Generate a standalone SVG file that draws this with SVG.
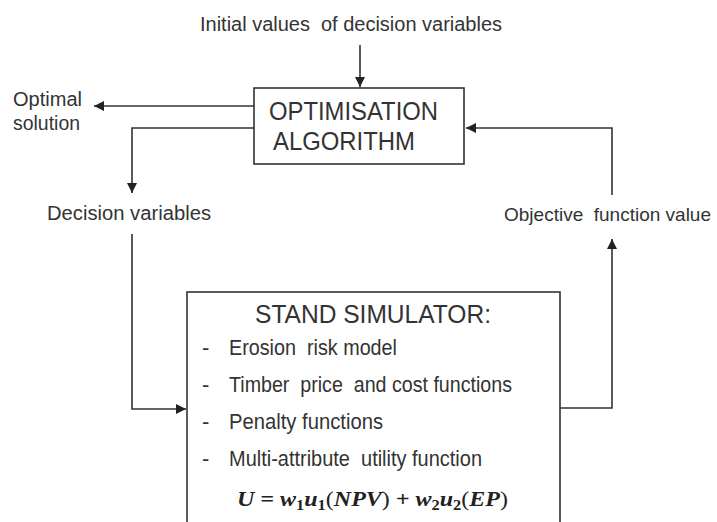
<svg xmlns="http://www.w3.org/2000/svg" width="717" height="522" viewBox="0 0 717 522">
<style>
  text { font-family: "Liberation Sans Narrow", "Liberation Sans", Arial, sans-serif; fill: #333; }
  .lbl { font-size: 20px; }
  .box { fill: #fff; stroke: #333; stroke-width: 1.6; }
  .conn { fill: none; stroke: #333; stroke-width: 1.6; }
  .big { font-size: 25px; }
  .item { font-size: 22px; }
  .math { font-family: "Liberation Serif", "Times New Roman", serif; font-size: 22px; font-weight: bold; font-style: italic; fill: #222; }
  .up { font-style: normal; }
</style>
<defs>
  <marker id="ah" viewBox="0 0 10 10" refX="10" refY="5" markerWidth="10" markerHeight="10" markerUnits="userSpaceOnUse" orient="auto">
    <path d="M0,0 L10,5 L0,10 z" fill="#222"/>
  </marker>
</defs>
<rect width="717" height="522" fill="#fff"/>

<g id="connectors">
  <path class="conn" d="M360,45 V87" marker-end="url(#ah)"/>
  <path class="conn" d="M254,106 H94" marker-end="url(#ah)"/>
  <path class="conn" d="M254,128 H132 V193" marker-end="url(#ah)"/>
  <path class="conn" d="M132,234 V409 H186" marker-end="url(#ah)"/>
  <path class="conn" d="M560,408 H612 V239" marker-end="url(#ah)"/>
  <path class="conn" d="M612,195 V128 H466" marker-end="url(#ah)"/>
</g>

<g id="label-initial">
  <text class="lbl" x="200" y="31" textLength="302" lengthAdjust="spacingAndGlyphs" xml:space="preserve">Initial values  of decision variables</text>
</g>
<g id="label-optimal">
  <text class="lbl" x="13" y="106" textLength="69" lengthAdjust="spacingAndGlyphs">Optimal</text>
  <text class="lbl" x="13" y="130" textLength="67" lengthAdjust="spacingAndGlyphs">solution</text>
</g>
<g id="label-decision">
  <text class="lbl" x="47" y="220" textLength="164" lengthAdjust="spacingAndGlyphs">Decision variables</text>
</g>
<g id="label-objective">
  <text class="lbl" x="504" y="221" font-size="19" style="font-size:19px" textLength="207" lengthAdjust="spacingAndGlyphs" xml:space="preserve">Objective  function value</text>
</g>

<g id="optimisation-algorithm">
  <rect class="box" x="254" y="88" width="210" height="76"/>
  <text class="big" x="269" y="120" textLength="169" lengthAdjust="spacingAndGlyphs">OPTIMISATION</text>
  <text class="big" x="273" y="150" textLength="142" lengthAdjust="spacingAndGlyphs">ALGORITHM</text>
</g>

<g id="stand-simulator">
  <rect class="box" x="187" y="292" width="373" height="245"/>
  <text class="big" x="255" y="323" textLength="236" lengthAdjust="spacingAndGlyphs">STAND SIMULATOR:</text>
  <text class="item" x="202" y="355">-</text>
  <text class="item" x="229" y="355" textLength="168" lengthAdjust="spacingAndGlyphs" xml:space="preserve">Erosion  risk model</text>
  <text class="item" x="202" y="392">-</text>
  <text class="item" x="229" y="392" textLength="283" lengthAdjust="spacingAndGlyphs" xml:space="preserve">Timber  price  and cost functions</text>
  <text class="item" x="202" y="429">-</text>
  <text class="item" x="229" y="429" textLength="154" lengthAdjust="spacingAndGlyphs">Penalty functions</text>
  <text class="item" x="202" y="466">-</text>
  <text class="item" x="229" y="466" textLength="253" lengthAdjust="spacingAndGlyphs" xml:space="preserve">Multi-attribute  utility function</text>
  <text class="math" x="237" y="506" textLength="271" lengthAdjust="spacingAndGlyphs">U = w<tspan class="up" font-size="15" dy="4">1</tspan><tspan dy="-4">u</tspan><tspan class="up" font-size="15" dy="4">1</tspan><tspan dy="-4" class="up" font-weight="normal">(</tspan>NPV<tspan class="up" font-weight="normal">)</tspan> + w<tspan class="up" font-size="15" dy="4">2</tspan><tspan dy="-4">u</tspan><tspan class="up" font-size="15" dy="4">2</tspan><tspan dy="-4" class="up" font-weight="normal">(</tspan>EP<tspan class="up" font-weight="normal">)</tspan></text>
</g>
</svg>
